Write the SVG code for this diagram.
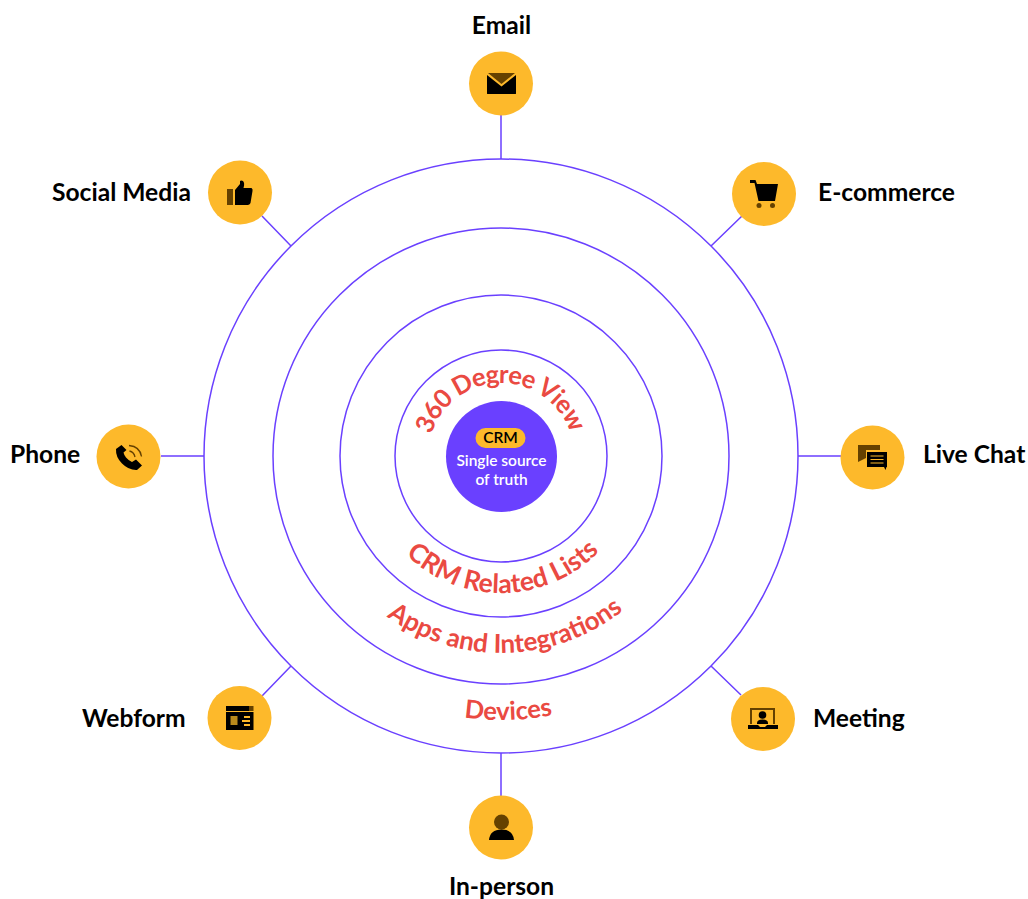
<svg xmlns="http://www.w3.org/2000/svg" width="1028" height="899" viewBox="0 0 1028 899">
<style>
.ring{fill:none;stroke:#6a40ff;stroke-width:1.5}
.link{stroke:#6a40ff;stroke-width:1.5;fill:none}
.disc{fill:#fdb92b}
.label{font-family:Lato,"Liberation Sans",sans-serif;font-weight:700;font-size:24.6px;fill:#000}
.arc{font-family:Lato,"Liberation Sans",sans-serif;font-weight:700;font-size:25.5px;fill:#ea4a42;text-anchor:middle}
.small{font-family:Lato,"Liberation Sans",sans-serif;font-weight:600;font-size:15.5px;text-anchor:middle}
.dim{fill:#654100}
</style>
<defs>
<path id="p360" d="M428 456A73 73 0 0 1 574 456"/>
<path id="pCrm" d="M364 456A137 137 0 0 0 638 456"/>
<path id="pApps" d="M304 456A197 197 0 0 0 698 456"/>
<path id="pDev" d="M237 456A264 264 0 0 0 765 456"/>
</defs>
<rect width="1028" height="899" fill="#fff"/>
<g id="connectors">
<path class="link" d="M501 114V159M501 753V798M161 456H204M798 456H842M262 216L291 246M742 216L711 246M262 696L291 666M741 695L711 666"/>
</g>
<g id="rings">
<circle class="ring" cx="501" cy="456" r="297"/>
<circle class="ring" cx="501" cy="456" r="228"/>
<circle class="ring" cx="501" cy="456" r="161"/>
<circle class="ring" cx="501" cy="456" r="106"/>
</g>
<g id="ring-labels">
<text class="arc" letter-spacing="-0.9"><textPath href="#p360" startOffset="49.5%">360 Degree View</textPath></text>
<text class="arc" font-size="26.5" style="font-size:26.5px"><textPath href="#pCrm" startOffset="50.5%">CRM Related Lists</textPath></text>
<text class="arc" style="font-size:26px"><textPath href="#pApps" startOffset="50.8%">Apps and Integrations</textPath></text>
<text class="arc"><textPath href="#pDev" startOffset="50.9%">Devices</textPath></text>
</g>
<g id="crm">
<circle cx="501.5" cy="456.5" r="55.5" fill="#6a40ff"/>
<rect x="475.500" y="428" width="50" height="20" rx="10" fill="#fdb92b"/>
<text class="small" x="500.500" y="443" fill="#000">CRM</text>
<text class="small" x="501.500" y="466" fill="#fff">Single source</text>
<text class="small" x="501.500" y="485" fill="#fff">of truth</text>
</g>
<g id="email">
<circle class="disc" cx="501" cy="83.500" r="32"/>
<path class="dim" d="M488 73H515L501.500 84Z"/>
<path d="M487 75L501.500 86.500L516 75V93.500Q516 94 515 94H488Q487 94 487 93.500Z"/>
<text class="label" x="501.500" y="34" text-anchor="middle">Email</text>
</g>
<g id="ecommerce">
<circle class="disc" cx="764" cy="194" r="32"/>
<path d="M750 180H755.500L757 184H778L775 201H758.500L754.500 183H750Z"/>
<circle class="dim" cx="759" cy="205.500" r="2.500"/>
<circle class="dim" cx="772.500" cy="205.500" r="2.500"/>
<text class="label" x="818" y="201">E-commerce</text>
</g>
<g id="livechat">
<circle class="disc" cx="872.500" cy="457.500" r="32"/>
<path class="dim" d="M858 445H880V450H866V458L858 462Z"/>
<path d="M867 452H887V467H886.500L885.500 470L884 467H867Z"/>
<path d="M870.500 456H883.500M870.500 459.500H883.500M870.500 463H883.500" stroke="#fdb92b" stroke-width="1.200"/>
<text class="label" x="923" y="463">Live Chat</text>
</g>
<g id="meeting">
<circle class="disc" cx="763" cy="719" r="32"/>
<path class="dim" d="M750 708H775V724H773V710H752V724H750Z"/>
<circle cx="762.500" cy="715" r="3.800"/>
<path d="M757 723Q757 719.500 762.500 719.500Q768 719.500 768 723V724H757Z"/>
<path d="M748 725H758L760 727H765L767 725H778V729H748Z"/>
<text class="label" x="813" y="727">Meeting</text>
</g>
<g id="inperson">
<circle class="disc" cx="501" cy="827.500" r="32"/>
<circle class="dim" cx="501.500" cy="822" r="7.500"/>
<path d="M489 840Q490 829.500 501.500 829.500Q513 829.500 514 840Z"/>
<text class="label" x="501.500" y="895" text-anchor="middle">In-person</text>
</g>
<g id="webform">
<circle class="disc" cx="239.500" cy="718" r="32"/>
<path d="M226 706H249V711H226Z"/>
<path class="dim" d="M249 706H253.500V711H249Z"/>
<path fill-rule="evenodd" d="M226 712H253.500V730H226ZM244 716V718H250V716ZM242 720V722H250V720ZM244 724V726H250V724Z"/>
<path fill="#b98a1c" d="M230.500 716H237.500V725H230.500Z"/>
<text class="label" x="82" y="727">Webform</text>
</g>
<g id="phone">
<circle class="disc" cx="128.500" cy="456.500" r="32"/>
<path d="M121.500 445L116 449Q115.500 457 122 463.500Q129 470.500 137 470L142 465.500L136 459.500L132 462Q128.500 460.500 126 457.500Q124 455 123.500 452.500L126.500 450Z"/>
<path fill="none" stroke="#654100" stroke-width="1.300" d="M129.500 451Q134 452 135 457M129 445.500Q140 446.500 141.500 456.500"/>
<text class="label" x="10" y="463">Phone</text>
</g>
<g id="social">
<circle class="disc" cx="240" cy="192.500" r="32"/>
<path class="dim" d="M227 189H233V205H227Z"/>
<path d="M235 190L240 184V181Q241 180 243 181Q245 183 243.500 188H251.500Q253 189 252.500 191L250.500 203Q250 204.500 248 205H235Z"/>
<text class="label" x="52" y="201">Social Media</text>
</g>
</svg>
